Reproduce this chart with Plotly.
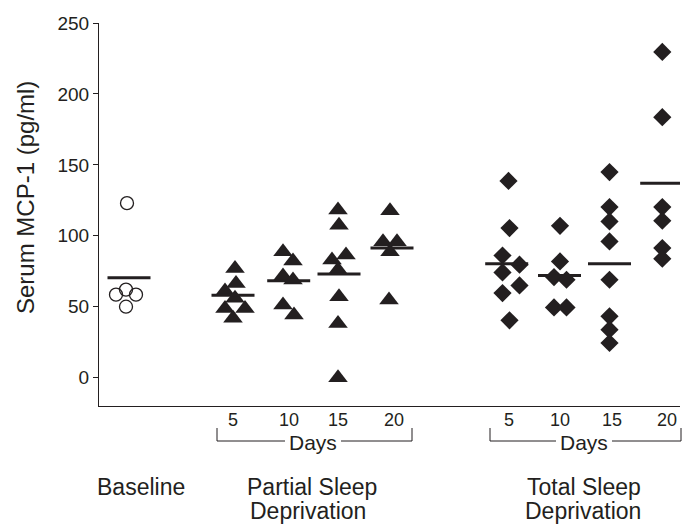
import plotly.graph_objects as go

# ---------------- data ----------------
baseline_vals = [123, 62, 58.5, 58.5, 50]
baseline_mean = 70.4

partial_days = ["5", "10", "15", "20"]
partial_vals = [
    [77, 66.4, 61.1, 55.9, 48.8, 48.8, 41.8],
    [88.7, 82.2, 71.6, 68.8, 51.2, 44.2],
    [118.1, 107.5, 86.4, 82.9, 76.1, 57.1, 38.2, 0],
    [117.6, 95.8, 95.8, 88.7, 54.7],
]
partial_means = [58, 68.3, 73, 91.3]

total_days = ["5", "10", "15", "20"]
total_vals = [
    [138.7, 105.4, 86.1, 79.6, 74.2, 65, 59.6, 40.4],
    [107, 81.9, 70.9, 69, 49.5, 49.5],
    [144.9, 120.2, 110.1, 96, 69, 43.2, 33.8, 24.4],
    [229.6, 183.6, 120.2, 110.6, 91.3, 83.8],
]
total_means = [80.3, 72, 80.3, 137]

y_ticks = [0, 50, 100, 150, 200, 250]
y_title = "Serum MCP-1 (pg/ml)"

# ---------------- layout positions (pixel-based x axis) ----------------
W, H = 694, 524
L, R, T, B = 99, 14, 23, 118
PW, PH = W - L - R, H - T - B
PLOT_BOTTOM = H - B

baseline_x = 126
baseline_off = [1, 0, -10, 10, 0]
baseline_mean_x = 129

partial_x = [235, 288, 338, 390]
partial_off = [
    [0, 1, -10, 0, -10, 10, -2],
    [-5, 5, -5, 5, -5, 6],
    [0, 1, 8, -6, 0, 1, 0, 0],
    [0, -7, 7, 0, -1],
]
partial_mean_x = [233, 288.7, 339, 392]
partial_lbl_x = [233, 289, 338, 394]

total_x = [510.5, 560, 609.5, 662.3]
total_off = [
    [-2, -1, -8, 9, -8, 9, -8, -1],
    [0, 0, -6, 6.5, -6, 6.5],
    [0, 0, 0, 0, 0, 0, 0, 0],
    [0, 0, 0, 0, 0, 0],
]
total_mean_x = [506.7, 559.5, 609.5, 661.7]
total_lbl_x = [509, 560, 612, 667]

HALF = 21.5
INK = "#231f20"
FONT = "Liberation Sans, Arial, Helvetica, sans-serif"


def xp(px):
    return (px - L) / PW


def yp(py):
    return (PLOT_BOTTOM - py) / PH


fig = go.Figure()

# baseline
fig.add_trace(go.Scatter(
    x=[baseline_x + o for o in baseline_off], y=baseline_vals, mode="markers",
    marker=dict(symbol="circle-open", size=13, color=INK, line=dict(width=1.3, color=INK)),
    showlegend=False, hoverinfo="y"))
fig.add_trace(go.Scatter(
    x=[baseline_mean_x - HALF, baseline_mean_x + HALF], y=[baseline_mean] * 2,
    mode="lines", line=dict(color=INK, width=3), showlegend=False, hoverinfo="skip"))

# partial sleep deprivation
for i, vals in enumerate(partial_vals):
    fig.add_trace(go.Scatter(
        x=[partial_x[i] + o for o in partial_off[i]], y=vals, mode="markers",
        marker=dict(symbol="triangle-up", size=17, color=INK, line=dict(width=0)),
        showlegend=False, hoverinfo="y"))
    fig.add_trace(go.Scatter(
        x=[partial_mean_x[i] - HALF, partial_mean_x[i] + HALF], y=[partial_means[i]] * 2,
        mode="lines", line=dict(color=INK, width=3), showlegend=False, hoverinfo="skip"))

# total sleep deprivation
for i, vals in enumerate(total_vals):
    fig.add_trace(go.Scatter(
        x=[total_x[i] + o for o in total_off[i]], y=vals, mode="markers",
        marker=dict(symbol="diamond", size=14, color=INK, line=dict(width=0)),
        showlegend=False, hoverinfo="y"))
    fig.add_trace(go.Scatter(
        x=[total_mean_x[i] - HALF, total_mean_x[i] + HALF], y=[total_means[i]] * 2,
        mode="lines", line=dict(color=INK, width=3), showlegend=False, hoverinfo="skip"))

annotations = []
shapes = []


def text(px, py, s, size, angle=0):
    annotations.append(dict(
        x=xp(px), y=yp(py), xref="paper", yref="paper", text=s, showarrow=False,
        xanchor="center", yanchor="middle", textangle=angle, borderpad=0,
        font=dict(family=FONT, size=size, color=INK)))


def seg(x0, y0, x1, y1):
    shapes.append(dict(type="line", xref="paper", yref="paper",
                       x0=xp(x0), y0=yp(y0), x1=xp(x1), y1=yp(y1),
                       line=dict(color=INK, width=1)))


# day numbers
for px, s in zip(partial_lbl_x, partial_days):
    text(px, 420, s, 18)
for px, s in zip(total_lbl_x, total_days):
    text(px, 420, s, 18)

# brackets with "Days"
text(313, 442, "Days", 21)
seg(217, 428, 217, 441)
seg(217, 441, 285, 441)
seg(341, 441, 412, 441)
seg(412, 428, 412, 441)

text(584, 442, "Days", 21)
seg(490, 428, 490, 441)
seg(490, 441, 556, 441)
seg(612, 441, 681, 441)
seg(681, 428, 681, 441)

# group labels
text(141, 487, "Baseline", 23)
text(312, 487, "Partial Sleep", 23)
text(308, 511, "Deprivation", 23)
text(584, 487, "Total Sleep", 23)
text(583, 511, "Deprivation", 23)

# y title
text(26, 198, y_title, 24, angle=-90)

fig.update_layout(
    width=W, height=H, autosize=False,
    margin=dict(l=L, r=R, t=T, b=B),
    paper_bgcolor="white", plot_bgcolor="white",
    font=dict(family=FONT, color=INK),
    annotations=annotations, shapes=shapes,
    xaxis=dict(range=[L, W - R], showline=True, linecolor=INK, linewidth=1,
               showticklabels=False, ticks="", showgrid=False, zeroline=False,
               fixedrange=True),
    yaxis=dict(range=[-20, 250], tickvals=y_ticks, ticks="outside", ticklen=5,
               tickcolor=INK, tickwidth=1, showline=True, linecolor=INK, linewidth=1,
               showgrid=False, zeroline=False, tickfont=dict(size=19, color=INK),
               fixedrange=True),
)

fig.write_html("out.html")
